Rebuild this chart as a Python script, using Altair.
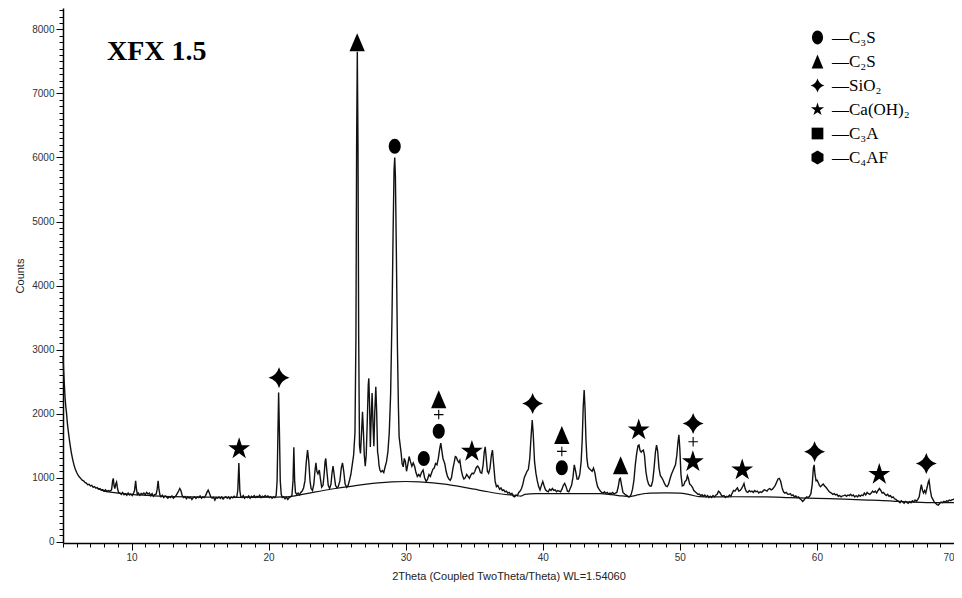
import altair as alt
import pandas as pd

# ---------------- data ----------------
# measured pattern, (2theta, counts), split by region
scan_05_12 = [
    (5.00, 2900), (5.05, 2650), (5.10, 2450), (5.15, 2250), (5.20, 2120), (5.26, 2000),
    (5.32, 1850), (5.40, 1700), (5.50, 1540), (5.60, 1400), (5.70, 1290), (5.80, 1200),
    (5.90, 1130), (6.00, 1080), (6.10, 1040), (6.20, 1010), (6.30, 985), (6.40, 960),
    (6.50, 950), (6.60, 925), (6.70, 915), (6.80, 890), (6.90, 895), (7.00, 870),
    (7.10, 880), (7.20, 850), (7.30, 860), (7.40, 835), (7.50, 845), (7.60, 820),
    (7.70, 830), (7.80, 805), (7.90, 815), (8.00, 790), (8.10, 810), (8.20, 785),
    (8.30, 800), (8.40, 790), (8.50, 800), (8.55, 820), (8.62, 950), (8.67, 990),
    (8.72, 880), (8.78, 830), (8.85, 900), (8.91, 930), (8.97, 840), (9.05, 770),
    (9.15, 760), (9.25, 740), (9.35, 770), (9.45, 735), (9.55, 750), (9.65, 725),
    (9.75, 760), (9.85, 730), (9.95, 745), (10.05, 720), (10.15, 760), (10.22, 800),
    (10.30, 950), (10.36, 820), (10.42, 740), (10.50, 760), (10.60, 725), (10.70, 755),
    (10.80, 740), (10.90, 760), (11.00, 735), (11.10, 770), (11.20, 745), (11.30, 760),
    (11.40, 720), (11.50, 750), (11.60, 710), (11.70, 735), (11.80, 745), (11.87, 820),
    (11.94, 950), (12.00, 820), (12.07, 730),
]
scan_12_21 = [
    (12.15, 700), (12.25, 725), (12.35, 690), (12.45, 715), (12.55, 700), (12.65, 680),
    (12.75, 705), (12.85, 690), (12.95, 715), (13.05, 680), (13.15, 700), (13.25, 720),
    (13.35, 760), (13.45, 800), (13.52, 830), (13.60, 800), (13.70, 720), (13.80, 690),
    (13.90, 705), (14.00, 670), (14.10, 700), (14.20, 680), (14.30, 695), (14.40, 660),
    (14.50, 690), (14.60, 700), (14.70, 675), (14.80, 700), (14.90, 690), (15.00, 715),
    (15.10, 680), (15.20, 700), (15.30, 690), (15.40, 720), (15.50, 770), (15.59, 805),
    (15.68, 760), (15.78, 700), (15.88, 680), (15.98, 695), (16.08, 650), (16.18, 690),
    (16.28, 680), (16.38, 700), (16.48, 675), (16.58, 700), (16.68, 665), (16.78, 690),
    (16.88, 705), (16.98, 680), (17.08, 700), (17.18, 670), (17.28, 700), (17.38, 685),
    (17.48, 710), (17.58, 690), (17.68, 700), (17.75, 800), (17.83, 1230), (17.90, 800),
    (17.97, 700), (18.05, 690), (18.15, 720), (18.25, 680), (18.35, 705), (18.45, 690),
    (18.55, 715), (18.65, 680), (18.75, 710), (18.85, 695), (18.95, 720), (19.05, 690),
    (19.15, 710), (19.25, 700), (19.35, 725), (19.45, 690), (19.55, 710), (19.65, 695),
    (19.75, 720), (19.85, 700), (19.95, 715), (20.05, 690), (20.15, 705), (20.25, 680),
    (20.35, 700), (20.45, 690), (20.55, 720), (20.62, 950), (20.68, 1700), (20.73, 2330),
    (20.79, 1700), (20.85, 950), (20.92, 740), (21.00, 690),
]
scan_21_30 = [
    (21.10, 700), (21.20, 670), (21.30, 695), (21.40, 660), (21.50, 690), (21.60, 700),
    (21.70, 720), (21.78, 950), (21.84, 1475), (21.90, 950), (21.96, 770), (22.05, 740),
    (22.15, 760), (22.25, 730), (22.35, 770), (22.45, 790), (22.55, 840), (22.65, 950),
    (22.75, 1250), (22.84, 1430), (22.93, 1250), (23.02, 950), (23.10, 830), (23.20, 800),
    (23.30, 900), (23.38, 1100), (23.45, 1230), (23.52, 1100), (23.60, 1060), (23.70, 1120),
    (23.78, 980), (23.87, 850), (23.97, 880), (24.05, 1050), (24.12, 1250), (24.17, 1300),
    (24.25, 1100), (24.35, 880), (24.45, 830), (24.55, 900), (24.63, 1080), (24.70, 1180),
    (24.78, 1050), (24.88, 880), (24.98, 840), (25.08, 860), (25.20, 950), (25.30, 1150),
    (25.39, 1230), (25.48, 1100), (25.58, 900), (25.70, 850), (25.80, 880), (25.90, 960),
    (26.00, 1050), (26.10, 1200), (26.20, 1350), (26.30, 1700), (26.37, 3200), (26.42, 6200),
    (26.47, 7650), (26.52, 6200), (26.57, 3200), (26.63, 1500), (26.70, 1380), (26.78, 1700),
    (26.85, 2030), (26.92, 1700), (26.98, 1350), (27.05, 1180), (27.12, 1350), (27.20, 1900),
    (27.27, 2450), (27.31, 2550), (27.37, 2100), (27.42, 1480), (27.48, 1900), (27.55, 2320),
    (27.62, 1800), (27.68, 1490), (27.74, 2000), (27.82, 2420), (27.88, 2050), (27.95, 1400),
    (28.00, 1330), (28.05, 1200), (28.12, 1120), (28.20, 1090), (28.30, 1110), (28.40, 1080),
    (28.50, 1170), (28.60, 1250), (28.70, 1400), (28.80, 1700), (28.90, 2300), (29.00, 3500),
    (29.08, 4800), (29.15, 5800), (29.20, 6000), (29.25, 5700), (29.32, 4500), (29.40, 3000),
    (29.47, 2100), (29.52, 1640), (29.60, 1500), (29.67, 1380), (29.74, 1220), (29.82, 1170),
    (29.90, 1300), (29.98, 1250),
]
scan_30_40 = [
    (30.06, 1100), (30.15, 1200), (30.25, 1330), (30.35, 1250), (30.45, 1180), (30.55, 1230),
    (30.66, 1170), (30.75, 1080), (30.85, 1020), (30.95, 1050), (31.05, 1020), (31.15, 1080),
    (31.27, 1120), (31.38, 1000), (31.50, 940), (31.60, 980), (31.70, 1050), (31.80, 1020),
    (31.88, 1070), (31.98, 1130), (32.08, 1150), (32.18, 1220), (32.28, 1200), (32.38, 1300),
    (32.48, 1450), (32.56, 1540), (32.64, 1420), (32.72, 1300), (32.85, 1220), (32.95, 1100),
    (33.05, 1020), (33.15, 980), (33.25, 960), (33.34, 1000), (33.45, 1150), (33.55, 1250),
    (33.62, 1330), (33.70, 1320), (33.78, 1270), (33.88, 1240), (33.95, 1270), (34.05, 1120),
    (34.15, 1030), (34.25, 980), (34.35, 1000), (34.45, 1050), (34.55, 1020), (34.65, 990),
    (34.75, 1040), (34.85, 1070), (34.95, 1060), (35.05, 1100), (35.15, 1160), (35.25, 1180),
    (35.35, 1150), (35.45, 1080), (35.55, 1070), (35.65, 1200), (35.73, 1400), (35.80, 1480),
    (35.88, 1300), (35.96, 1100), (36.05, 1070), (36.15, 1150), (36.25, 1350), (36.33, 1430),
    (36.42, 1200), (36.52, 950), (36.62, 860), (36.72, 880), (36.85, 820), (36.95, 840),
    (37.05, 800), (37.15, 810), (37.25, 780), (37.35, 790), (37.45, 760), (37.55, 770),
    (37.65, 740), (37.75, 755), (37.85, 710), (37.95, 700), (38.05, 730), (38.15, 720),
    (38.25, 770), (38.35, 790), (38.45, 830), (38.55, 900), (38.65, 1000), (38.75, 1050),
    (38.85, 1100), (38.95, 1130), (39.05, 1300), (39.15, 1650), (39.23, 1900), (39.30, 1700),
    (39.40, 1250), (39.50, 1070), (39.60, 950), (39.70, 860), (39.80, 810), (39.90, 880),
]
scan_40_50 = [
    (40.00, 940), (40.10, 870), (40.20, 810), (40.30, 790), (40.40, 780), (40.50, 820),
    (40.60, 800), (40.70, 830), (40.80, 800), (40.90, 810), (41.00, 780), (41.10, 800),
    (41.20, 790), (41.30, 780), (41.40, 820), (41.50, 880), (41.60, 910), (41.70, 860),
    (41.80, 790), (41.90, 780), (42.00, 830), (42.10, 880), (42.20, 1000), (42.30, 1200),
    (42.40, 1100), (42.50, 980), (42.60, 980), (42.70, 1050), (42.80, 1250), (42.88, 1600),
    (42.95, 2100), (43.02, 2370), (43.08, 2100), (43.15, 1600), (43.22, 1300), (43.30, 1170),
    (43.40, 1140), (43.50, 1120), (43.60, 1100), (43.70, 1150), (43.80, 1080), (43.90, 950),
    (44.00, 860), (44.10, 820), (44.20, 790), (44.30, 770), (44.40, 760), (44.50, 780),
    (44.60, 755), (44.70, 770), (44.80, 745), (44.90, 760), (45.00, 750), (45.10, 770),
    (45.20, 745), (45.30, 760), (45.40, 770), (45.50, 850), (45.60, 980), (45.66, 990),
    (45.75, 880), (45.85, 770), (45.95, 750), (46.05, 730), (46.15, 720), (46.25, 700),
    (46.35, 705), (46.45, 740), (46.55, 820), (46.65, 960), (46.75, 1200), (46.85, 1380),
    (46.95, 1500), (47.02, 1510), (47.10, 1420), (47.18, 1400), (47.26, 1420), (47.34, 1430),
    (47.42, 1350), (47.52, 1100), (47.62, 970), (47.72, 900), (47.82, 870), (47.92, 870),
    (48.02, 950), (48.12, 1150), (48.22, 1400), (48.30, 1510), (48.38, 1420), (48.48, 1150),
    (48.58, 1030), (48.68, 1000), (48.78, 960), (48.88, 910), (48.98, 870), (49.08, 860),
    (49.18, 900), (49.28, 980), (49.38, 1050), (49.48, 1100), (49.58, 1150), (49.68, 1200),
    (49.78, 1350), (49.86, 1550), (49.93, 1670),
]
scan_50_60 = [
    (50.00, 1450), (50.08, 1050), (50.18, 870), (50.28, 880), (50.38, 940), (50.48, 960),
    (50.55, 1030), (50.62, 990), (50.72, 900), (50.82, 880), (50.92, 850), (51.02, 800),
    (51.12, 780), (51.22, 760), (51.32, 740), (51.42, 745), (51.52, 720), (51.62, 735),
    (51.72, 710), (51.82, 730), (51.92, 700), (52.02, 720), (52.12, 690), (52.22, 710),
    (52.32, 690), (52.42, 720), (52.52, 700), (52.62, 725), (52.72, 740), (52.82, 790),
    (52.92, 770), (53.02, 730), (53.12, 710), (53.22, 720), (53.32, 690), (53.42, 710),
    (53.52, 700), (53.62, 730), (53.72, 710), (53.82, 760), (53.92, 800), (54.02, 790),
    (54.12, 820), (54.20, 840), (54.30, 790), (54.40, 800), (54.50, 830), (54.60, 870),
    (54.68, 910), (54.76, 830), (54.86, 780), (54.96, 770), (55.06, 800), (55.16, 780),
    (55.26, 790), (55.36, 770), (55.46, 800), (55.56, 780), (55.66, 790), (55.76, 760),
    (55.86, 780), (55.96, 770), (56.06, 790), (56.16, 810), (56.26, 800), (56.36, 790),
    (56.46, 820), (56.56, 830), (56.66, 810), (56.76, 820), (56.86, 850), (56.96, 880),
    (57.06, 930), (57.16, 980), (57.26, 990), (57.36, 940), (57.46, 840), (57.56, 780),
    (57.66, 760), (57.76, 770), (57.86, 745), (57.96, 740), (58.06, 750), (58.16, 720),
    (58.26, 730), (58.36, 700), (58.46, 715), (58.56, 690), (58.66, 700), (58.76, 670),
    (58.86, 655), (58.96, 630), (59.06, 650), (59.16, 680), (59.26, 700), (59.36, 690),
    (59.46, 710), (59.56, 750), (59.66, 900), (59.74, 1150), (59.80, 1200), (59.86, 1050),
    (59.94, 950),
]
scan_60_70 = [
    (60.02, 960), (60.10, 920), (60.18, 880), (60.26, 860), (60.36, 880), (60.46, 900),
    (60.56, 870), (60.66, 850), (60.76, 820), (60.86, 790), (60.96, 770), (61.06, 760),
    (61.16, 740), (61.26, 750), (61.36, 730), (61.46, 740), (61.56, 710), (61.66, 720),
    (61.76, 700), (61.86, 715), (61.96, 720), (62.06, 730), (62.16, 710), (62.26, 730),
    (62.36, 720), (62.46, 740), (62.56, 715), (62.66, 730), (62.76, 700), (62.86, 720),
    (62.96, 700), (63.06, 730), (63.16, 710), (63.26, 730), (63.36, 720), (63.46, 760),
    (63.56, 730), (63.66, 770), (63.76, 750), (63.86, 740), (63.96, 760), (64.06, 790),
    (64.16, 770), (64.26, 790), (64.36, 760), (64.46, 800), (64.56, 830), (64.66, 800),
    (64.76, 760), (64.86, 770), (64.96, 740), (65.06, 720), (65.16, 740), (65.26, 710),
    (65.36, 720), (65.46, 690), (65.56, 700), (65.66, 670), (65.76, 660), (65.86, 640),
    (65.96, 630), (66.06, 610), (66.16, 640), (66.26, 620), (66.36, 600), (66.46, 630),
    (66.56, 615), (66.66, 600), (66.76, 625), (66.86, 610), (66.96, 640), (67.06, 620),
    (67.16, 650), (67.26, 630), (67.36, 660), (67.46, 700), (67.56, 830), (67.62, 890),
    (67.70, 800), (67.78, 760), (67.86, 800), (67.94, 760), (68.04, 850), (68.12, 930),
    (68.18, 960), (68.26, 820), (68.36, 700), (68.46, 660), (68.56, 620), (68.66, 600),
    (68.76, 580), (68.86, 570), (68.96, 600), (69.06, 620), (69.16, 610), (69.26, 630),
    (69.36, 620), (69.46, 640), (69.56, 630), (69.66, 650), (69.76, 640), (69.86, 655),
    (69.96, 660), (70.00, 670),
]

# fitted background curve
background = [
    (7.5, 830), (8.0, 790), (9.0, 760), (10.0, 740), (11.0, 725), (12.0, 712),
    (13.0, 705), (14.0, 700), (15.0, 697), (16.0, 695), (17.0, 694), (18.0, 693),
    (19.0, 693), (20.0, 695), (21.0, 700), (21.5, 705), (22.0, 720), (23.0, 760),
    (24.0, 800), (25.0, 835), (26.0, 865), (27.0, 895), (28.0, 920), (29.0, 935),
    (30.0, 940), (31.0, 935), (32.0, 920), (33.0, 895), (34.0, 860), (35.0, 820),
    (36.0, 780), (37.0, 745), (38.0, 722), (38.4, 712), (38.7, 740), (39.5, 750),
    (41.0, 752), (43.0, 752), (44.2, 750), (45.0, 735), (45.8, 715), (46.3, 705),
    (46.8, 725), (47.4, 750), (47.8, 760), (49.0, 762), (50.0, 758), (50.7, 735),
    (51.4, 705), (52.5, 700), (54.0, 702), (56.3, 700), (58.0, 690), (60.0, 678),
    (62.0, 665), (64.0, 648), (65.5, 635), (66.5, 622), (68.5, 610), (70.0, 610),
]

# phase identification markers
phases = ["C₃S", "C₂S", "SiO₂", "Ca(OH)₂", "C₃A", "C₄AF"]
marker_theta = [17.85, 20.76, 26.46, 29.20, 31.32, 32.41, 32.41, 34.83, 39.26, 41.39,
                41.39, 45.68, 47.00, 50.97, 50.95, 54.55, 59.83, 64.55, 67.98]
marker_counts = [1450, 2560, 7800, 6175, 1300, 2225, 1725, 1410, 2160, 1667,
                 1155, 1195, 1745, 1845, 1248, 1120, 1405, 1050, 1220]
marker_phase = ["Ca(OH)₂", "SiO₂", "C₂S", "C₃S", "C₃S", "C₂S", "C₃S", "Ca(OH)₂", "SiO₂", "C₂S",
                "C₃S", "C₂S", "Ca(OH)₂", "SiO₂", "Ca(OH)₂", "Ca(OH)₂", "SiO₂", "Ca(OH)₂", "SiO₂"]
plus_theta = [32.41, 41.39, 50.97]
plus_counts = [1985, 1410, 1560]

sample_label = "XFX 1.5"

# ---------------- frames ----------------
scan = (scan_05_12 + scan_12_21 + scan_21_30 + scan_30_40 +
        scan_40_50 + scan_50_60 + scan_60_70)
df_scan = pd.DataFrame(scan, columns=["theta", "counts"])
df_bg = pd.DataFrame(background, columns=["theta", "counts"])

shape_paths = [
    "M0,-1 A0.8,1 0 1,1 0,1 A0.8,1 0 1,1 0,-1 Z",                                  # ellipse
    "M0,-1 L0.85,1 L-0.85,1 Z",                                                     # triangle
    "M0,-1 Q0.22,-0.22 1,0 Q0.22,0.22 0,1 Q-0.22,0.22 -1,0 Q-0.22,-0.22 0,-1 Z",   # 4-point cross
    "M0,-1 L0.2245,-0.309 L0.951,-0.309 L0.363,0.118 L0.588,0.809 L0,0.382 "
    "L-0.588,0.809 L-0.363,0.118 L-0.951,-0.309 L-0.2245,-0.309 Z",                # star
    "M-0.85,-0.85 L0.85,-0.85 L0.85,0.85 L-0.85,0.85 Z",                            # square
    "M0,-1 L0.87,-0.5 L0.87,0.5 L0,1 L-0.87,0.5 L-0.87,-0.5 Z",                     # hexagon
]
marker_px = {"C₃S": 15, "C₂S": 18, "SiO₂": 21, "Ca(OH)₂": 23, "C₃A": 12, "C₄AF": 14}
df_mark = pd.DataFrame({"theta": marker_theta, "counts": marker_counts, "phase": marker_phase})
df_mark["sz"] = [marker_px[p] ** 2 for p in marker_phase]
df_plus = pd.DataFrame({"theta": plus_theta, "counts": plus_counts})

X_DOM = [5, 70]
Y_DOM = [-20, 8334]

x_enc = alt.X(
    "theta:Q",
    scale=alt.Scale(domain=X_DOM, nice=False, zero=False),
    axis=alt.Axis(
        title="2Theta (Coupled TwoTheta/Theta) WL=1.54060",
        values=list(range(5, 71)),
        tickCount=500,
        format="d",
        labelExpr="datum.value % 10 === 0 ? datum.label : ''",
        labelOverlap=False,
        tickSize={"condition": {"test": "datum.value % 10 === 0", "value": 7}, "value": 4},
        grid=False,
    ),
)
y_enc = alt.Y(
    "counts:Q",
    scale=alt.Scale(domain=Y_DOM, nice=False, zero=False),
    axis=alt.Axis(
        title="Counts",
        values=list(range(0, 8400, 100)),
        tickCount=500,
        labelExpr="datum.value % 1000 === 0 ? datum.label : ''",
        labelOverlap=False,
        format="d",
        tickSize={"condition": {"test": "datum.value % 1000 === 0", "value": 7}, "value": 4},
        grid=False,
    ),
)

line = alt.Chart(df_scan).mark_line(color="#111111", strokeWidth=1.4).encode(x=x_enc, y=y_enc)
bg = alt.Chart(df_bg).mark_line(color="#111111", strokeWidth=1.2, interpolate="monotone").encode(
    x="theta:Q", y="counts:Q")

markers = alt.Chart(df_mark).mark_point(filled=True, color="black", opacity=1).encode(
    x="theta:Q",
    y="counts:Q",
    shape=alt.Shape(
        "phase:N",
        scale=alt.Scale(domain=phases, range=shape_paths),
        legend=alt.Legend(
            title=None, orient="none", legendX=746, legendY=21,
            labelExpr="'—' + datum.label",
            labelFont="Liberation Serif", labelFontSize=17, labelColor="black",
            symbolSize=190, symbolFillColor="black", symbolStrokeColor="black",
            symbolStrokeWidth=0, symbolOpacity=1, rowPadding=6, labelOffset=6,
        ),
    ),
    size=alt.Size("sz:Q", scale=None, legend=None),
)

plus = alt.Chart(df_plus).mark_point(
    shape="M-1,0 L1,0 M0,-1 L0,1", filled=False, color="black", strokeWidth=1.1,
    size=90, opacity=1,
).encode(x="theta:Q", y="counts:Q")

title = alt.Chart(pd.DataFrame({"t": [sample_label]})).mark_text(
    font="Liberation Serif", fontSize=28, fontWeight="bold", color="black",
    align="left", baseline="alphabetic",
).encode(x=alt.value(44), y=alt.value(52), text="t:N")

chart = alt.layer(line, bg, markers, plus, title).properties(
    width=891, height=535,
    autosize=alt.AutoSizeParams(type="none"),
    padding={"left": 55, "top": 0, "right": 0, "bottom": 44},
).configure_view(stroke=None).configure_axis(
    domainColor="black", domainWidth=1.5, tickColor="black", tickWidth=1,
    labelFont="Liberation Sans", labelFontSize=10, labelColor="#333333", labelPadding=2,
    titleFont="Liberation Sans", titleFontSize=11, titleColor="#222222", titleFontWeight="normal",
).configure_axisY(titlePadding=6).configure_axisX(titlePadding=8)

chart.save("out.html", embed_options={"renderer": "svg", "actions": False})
